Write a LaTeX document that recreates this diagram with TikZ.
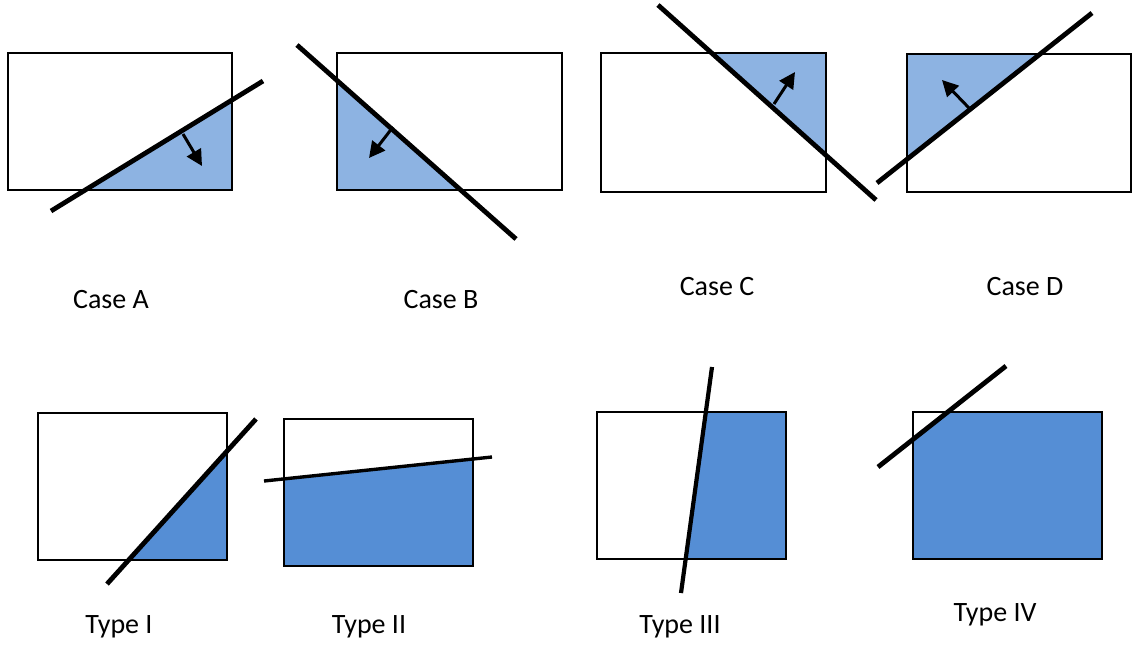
\documentclass[tikz,border=0pt]{standalone}
\usepackage{fontspec}
\setmainfont{Carlito}
\usetikzlibrary{arrows.meta}
\definecolor{cutlight}{HTML}{8DB3E2}
\definecolor{cutdark}{HTML}{558ED5}
\tikzset{
  box/.style={draw=black,line width=1.1pt},
  cutline/.style={line width=2.4pt},
  dirarrow/.style={line width=1.5pt,-{Triangle[length=8pt,width=8pt]}},
  caption/.style={anchor=base,inner sep=0pt,font=\fontsize{14}{16}\selectfont}
}
\begin{document}
\begin{tikzpicture}[x=0.5pt,y=-0.5pt]
\useasboundingbox (0,0) rectangle (1135,644);

\begin{scope}[shift={(8,53)}]
\fill[cutlight] (78,137) -- (224,137) -- (224,46) -- cycle;
\draw[box] (0,0) rectangle (224,137);
\draw[cutline] (43,158) -- (255,28);
\coordinate (a0) at (175,81);
\coordinate (a1) at (194,113);
\draw[dirarrow] (a0) -- (a1);
\node[caption] (caseA) at (103,255) {Case A};
\end{scope}

\begin{scope}[shift={(337,53)}]
\fill[cutlight] (0,27) -- (0,137) -- (123,137) -- cycle;
\draw[box] (0,0) rectangle (225,137);
\draw[cutline] (-40,-8) -- (179,186);
\coordinate (b0) at (56,74);
\coordinate (b1) at (32,105);
\draw[dirarrow] (b0) -- (b1);
\node[caption] (caseB) at (104,255) {Case B};
\end{scope}

\begin{scope}[shift={(601,53)}]
\fill[cutlight] (111,0) -- (225,0) -- (225,102) -- cycle;
\draw[box] (0,0) rectangle (225,139);
\draw[cutline] (57,-48) -- (275,147);
\coordinate (c0) at (173,51);
\coordinate (c1) at (194,19);
\draw[dirarrow] (c0) -- (c1);
\node[caption] (caseC) at (116,242) {Case C};
\end{scope}

\begin{scope}[shift={(907,54)}]
\fill[cutlight] (0,0) -- (133,0) -- (0,105) -- cycle;
\draw[box] (0,0) rectangle (224,138);
\draw[cutline] (-30,129) -- (185,-41);
\coordinate (d0) at (62,54);
\coordinate (d1) at (35,26);
\draw[dirarrow] (d0) -- (d1);
\node[caption] (caseD) at (118,241) {Case D};
\end{scope}

\begin{scope}[shift={(38,413)}]
\fill[cutdark] (91,147) -- (189,147) -- (189,38) -- cycle;
\draw[box] (0,0) rectangle (189,147);
\draw[cutline] (69,171) -- (218,6);
\node[caption] (typeI) at (81,220) {Type I};
\end{scope}

\begin{scope}[shift={(284,419)}]
\fill[cutdark] (0,60) -- (189,40) -- (189,147) -- (0,147) -- cycle;
\draw[box] (0,0) rectangle (189,147);
\draw[cutline,line width=1.7pt] (-20,62) -- (208,38);
\node[caption] (typeII) at (85,214) {Type II};
\end{scope}

\begin{scope}[shift={(597,412)}]
\fill[cutdark] (109,0) -- (189,0) -- (189,147) -- (89,147) -- cycle;
\draw[box] (0,0) rectangle (189,147);
\draw[cutline,line width=2.1pt] (115,-45) -- (84,181);
\node[caption] (typeIII) at (83,221) {Type III};
\end{scope}

\begin{scope}[shift={(913,412)}]
\fill[cutdark] (0,27) -- (35,0) -- (189,0) -- (189,147) -- (0,147) -- cycle;
\draw[box] (0,0) rectangle (189,147);
\draw[cutline] (-35,55) -- (93,-46);
\node[caption] (typeIV) at (82,209) {Type IV};
\end{scope}
\end{tikzpicture}
\end{document}
